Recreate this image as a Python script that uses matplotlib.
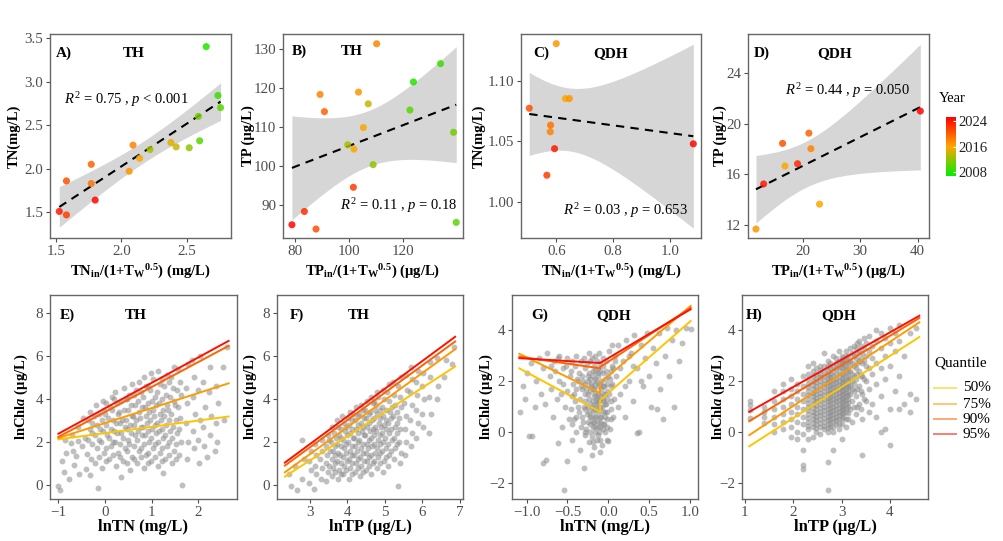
import numpy as np
import matplotlib
matplotlib.use("Agg")
import matplotlib.pyplot as plt
from matplotlib.colors import LinearSegmentedColormap, Normalize
from matplotlib.cm import ScalarMappable
from matplotlib.lines import Line2D

plt.rcParams['font.family'] = ['Liberation Serif', 'DejaVu Serif']
plt.rcParams['mathtext.fontset'] = 'custom'
plt.rcParams['mathtext.rm'] = 'Liberation Serif'
plt.rcParams['mathtext.it'] = 'Liberation Serif:italic'
plt.rcParams['mathtext.bf'] = 'Liberation Serif:bold'
plt.rcParams['mathtext.bfit'] = 'Liberation Serif:bold:italic'

# ---------------- data: top row (annual means) ----------------
th_tn_x = [1.525, 1.58, 1.58, 1.77, 1.77, 1.80, 2.06, 2.09, 2.14, 2.22, 2.38, 2.42, 2.52, 2.59, 2.60, 2.65, 2.74, 2.76]
th_tn_y = [1.51, 1.47, 1.86, 2.05, 1.83, 1.64, 1.97, 2.27, 2.12, 2.22, 2.30, 2.25, 2.24, 2.60, 2.32, 3.40, 2.84, 2.70]
th_tn_year = [2024, 2022, 2021, 2020, 2019, 2025, 2017, 2018, 2016, 2013, 2015, 2014, 2012, 2011, 2010, 2008, 2009, 2010]

th_tp_x = [79.0, 83.6, 87.9, 89.4, 91.0, 99.6, 101.9, 101.7, 103.6, 105.4, 107.2, 109.0, 110.3, 122.6, 123.9, 133.9, 138.7, 139.7]
th_tp_y = [84.9, 88.3, 83.8, 118.3, 113.9, 105.4, 104.3, 94.5, 118.9, 109.8, 115.9, 100.3, 131.3, 114.3, 121.5, 126.2, 108.6, 85.5]
th_tp_year = [2025, 2023, 2021, 2018, 2020, 2013, 2016, 2022, 2017, 2016, 2014, 2012, 2018, 2010, 2008, 2009, 2011, 2010]

qdh_tn_x = [0.505, 0.600, 0.567, 0.579, 0.580, 0.594, 0.632, 0.646, 1.082]
qdh_tn_y = [1.0775, 1.131, 1.022, 1.058, 1.0635, 1.044, 1.0855, 1.0855, 1.048]
qdh_tn_year = [2021, 2017, 2022, 2018, 2019, 2024, 2016, 2017, 2025]

qdh_tp_x = [11.9, 13.24, 16.53, 16.94, 19.13, 21.10, 21.45, 22.95, 40.46]
qdh_tp_y = [11.66, 15.23, 18.44, 16.65, 16.83, 19.25, 18.02, 13.63, 21.0]
qdh_tp_year = [2017, 2024, 2021, 2016, 2023, 2020, 2018, 2016, 2025]

r2_texts = [r'$R^2$ = 0.75 , $p$ < 0.001', r'$R^2$ = 0.11 , $p$ = 0.18',
            r'$R^2$ = 0.03 , $p$ = 0.653', r'$R^2$ = 0.44 , $p$ = 0.050']

# ---------------- data: bottom row (observations) ----------------
e_pts = [(-1.00, -0.05), (-0.96, -0.25), (-0.92, 1.1), (-0.88, 0.6), (-0.83, 1.5), (-0.78, 0.3), (-0.74, 1.95),
         (-0.70, 2.3), (-0.66, 0.95), (-0.62, 1.35), (-0.57, 2.7), (-0.55, 0.5), (-0.50, 1.8), (-0.47, 3.1),
         (-0.44, 2.2), (-0.41, 0.75), (-0.38, 1.45), (-0.33, 0.45), (-0.15, -0.15), (-0.58, 2.05), (-0.68, 1.6),
         (-0.85, 2.1),
         (-0.36, 2.1), (-0.33, 2.6), (-0.37, 3.0), (-0.32, 3.4), (-0.30, 1.2),
         (-0.22, 1.0), (-0.18, 1.7), (-0.21, 2.3), (-0.17, 2.8), (-0.23, 3.2), (-0.19, 3.7),
         (-0.06, 0.8), (-0.03, 1.5), (-0.08, 2.0), (-0.04, 2.5), (-0.07, 3.0), (-0.02, 3.5), (-0.05, 3.9),
         (0.08, 1.2), (0.12, 1.8), (0.09, 2.2), (0.13, 2.6), (0.07, 3.1), (0.11, 3.6), (0.14, 4.1),
         (0.24, 0.9), (0.27, 1.5), (0.22, 2.0), (0.26, 2.4), (0.23, 2.9), (0.28, 3.3), (0.25, 3.8), (0.21, 4.3),
         (0.38, 1.1), (0.42, 1.7), (0.39, 2.2), (0.43, 2.7), (0.37, 3.0), (0.41, 3.5), (0.44, 4.0), (0.40, 4.5), (0.35, 0.35),
         (0.54, 0.7), (0.57, 1.3), (0.52, 1.9), (0.56, 2.4), (0.53, 2.8), (0.58, 3.2), (0.55, 3.7), (0.51, 4.2), (0.57, 4.7),
         (0.69, 1.0), (0.72, 1.6), (0.68, 2.1), (0.71, 2.5), (0.67, 3.0), (0.73, 3.4), (0.70, 3.9), (0.66, 4.4), (0.72, 4.8),
         (0.84, 0.8), (0.87, 1.4), (0.83, 1.9), (0.86, 2.3), (0.82, 2.7), (0.88, 3.2), (0.85, 3.6), (0.81, 4.1), (0.87, 4.6), (0.84, 5.0),
         (0.99, 1.1), (1.02, 1.7), (0.98, 2.2), (1.01, 2.6), (0.97, 3.0), (1.03, 3.5), (1.00, 3.9), (0.96, 4.4), (1.02, 4.9), (0.99, 5.2),
         (1.14, 0.9), (1.17, 1.5), (1.13, 2.0), (1.16, 2.5), (1.12, 2.9), (1.18, 3.3), (1.15, 3.8), (1.11, 4.3), (1.17, 4.7), (1.14, 5.3),
         (1.29, 1.2), (1.32, 1.8), (1.28, 2.3), (1.31, 2.8), (1.27, 3.2), (1.33, 3.7), (1.30, 4.2), (1.26, 4.6), (1.32, 5.1), (1.25, 0.55),
         (1.44, 1.0), (1.47, 1.6), (1.43, 2.2), (1.46, 2.7), (1.42, 3.3), (1.48, 3.9), (1.45, 4.5), (1.41, 5.0), (1.47, 5.5),
         (1.59, 1.4), (1.62, 2.0), (1.58, 2.6), (1.61, 3.1), (1.57, 3.6), (1.63, 4.2), (1.60, 4.8), (1.56, 5.4), (1.66, 0.0),
         (1.75, 1.2), (1.77, 2.0), (1.73, 2.9), (1.76, 3.8), (1.74, 4.5), (1.78, 5.6), (1.90, 1.7), (1.88, 2.5), (1.92, 3.3),
         (1.89, 4.1), (1.91, 5.0), (1.87, 5.8), (2.02, 1.0), (2.00, 2.1), (2.04, 3.0), (1.99, 4.4), (2.03, 6.0), (2.12, 1.8),
         (2.10, 2.7), (2.14, 3.6), (2.11, 4.8), (2.25, 2.3), (2.27, 3.2), (2.23, 4.3), (2.26, 5.5), (2.40, 2.0), (2.38, 2.9),
         (2.42, 3.8), (2.39, 4.6), (2.55, 3.0), (2.53, 5.5), (2.62, 6.4), (2.35, 1.6), (2.18, 1.3),
         (-0.28, 1.9), (-0.27, 2.4), (-0.29, 2.9),
         (-0.12, 1.3), (-0.13, 2.1), (-0.11, 2.6), (-0.12, 3.3),
         (0.03, 1.1), (0.02, 1.7), (0.04, 2.3), (0.03, 2.8), (0.01, 3.3), (0.03, 3.8),
         (0.18, 1.4), (0.17, 2.0), (0.19, 2.5), (0.18, 3.0), (0.16, 3.5), (0.19, 4.0),
         (0.33, 1.3), (0.32, 1.9), (0.34, 2.4), (0.33, 2.9), (0.31, 3.4), (0.34, 3.9),
         (0.48, 1.0), (0.47, 1.6), (0.49, 2.1), (0.48, 2.6), (0.46, 3.0), (0.49, 3.5), (0.47, 4.0),
         (0.63, 1.2), (0.62, 1.8), (0.64, 2.3), (0.63, 2.8), (0.61, 3.2), (0.64, 3.7), (0.62, 4.2),
         (0.78, 1.3), (0.77, 1.7), (0.79, 2.3), (0.78, 2.7), (0.76, 3.1), (0.79, 3.6), (0.77, 4.3),
         (0.93, 1.0), (0.92, 1.5), (0.94, 2.0), (0.93, 2.5), (0.91, 2.9), (0.94, 3.4), (0.92, 3.8), (0.93, 4.6),
         (1.08, 1.3), (1.07, 1.9), (1.09, 2.4), (1.08, 2.8), (1.06, 3.2), (1.09, 3.7), (1.07, 4.1),
         (1.23, 1.1), (1.22, 1.7), (1.24, 2.2), (1.23, 2.6), (1.21, 3.0), (1.24, 3.5), (1.22, 4.0), (1.23, 4.9),
         (1.38, 1.4), (1.37, 2.0), (1.39, 2.5), (1.38, 3.0), (1.36, 3.5), (1.39, 4.1), (1.37, 4.8),
         (1.53, 1.2), (1.52, 1.9), (1.54, 2.4), (1.53, 3.0), (1.51, 3.7), (1.54, 4.4)]

f_pts = [(2.50, -0.05), (2.65, -0.25), (2.60, 0.9), (2.45, 0.5), (2.78, 2.09), (2.80, 0.3), (2.83, 1.2), (3.10, -0.2), (5.35, -0.05),
         (2.98, 0.1), (3.02, 0.7), (2.97, 1.1), (3.03, 1.6),
         (3.16, 0.5), (3.13, 0.9), (3.17, 1.4), (3.14, 1.9),
         (3.29, 0.3), (3.32, 0.8), (3.28, 1.2), (3.31, 1.6), (3.33, 2.1),
         (3.44, 0.2), (3.47, 0.6), (3.43, 1.0), (3.46, 1.4), (3.42, 1.8), (3.48, 2.3),
         (3.59, 0.4), (3.62, 0.8), (3.58, 1.2), (3.61, 1.6), (3.57, 2.0), (3.63, 2.4), (3.60, 2.7),
         (3.74, 0.3), (3.77, 0.7), (3.73, 1.1), (3.76, 1.5), (3.72, 1.9), (3.78, 2.3), (3.75, 2.7), (3.71, 3.0),
         (3.89, 0.5), (3.92, 0.9), (3.88, 1.3), (3.91, 1.7), (3.87, 2.1), (3.93, 2.5), (3.90, 2.9), (3.86, 3.2),
         (4.04, 0.3), (4.07, 0.8), (4.03, 1.2), (4.06, 1.6), (4.02, 2.0), (4.08, 2.4), (4.05, 2.8), (4.01, 3.1), (4.07, 3.4),
         (4.19, 0.6), (4.22, 1.0), (4.18, 1.4), (4.21, 1.8), (4.17, 2.2), (4.23, 2.6), (4.20, 3.0), (4.16, 3.3), (4.22, 3.6),
         (4.34, 0.4), (4.37, 0.9), (4.33, 1.3), (4.36, 1.7), (4.32, 2.1), (4.38, 2.5), (4.35, 2.9), (4.31, 3.3), (4.37, 3.7),
         (4.49, 0.7), (4.52, 1.1), (4.48, 1.5), (4.51, 1.9), (4.47, 2.3), (4.53, 2.7), (4.50, 3.1), (4.46, 3.5), (4.52, 3.9),
         (4.64, 0.5), (4.67, 1.0), (4.63, 1.4), (4.66, 1.8), (4.62, 2.2), (4.68, 2.6), (4.65, 3.0), (4.61, 3.4), (4.67, 3.8), (4.64, 4.1),
         (4.79, 0.8), (4.82, 1.3), (4.78, 1.7), (4.81, 2.1), (4.77, 2.5), (4.83, 2.9), (4.80, 3.3), (4.76, 3.7), (4.82, 4.1), (4.79, 4.3),
         (4.94, 0.6), (4.97, 1.1), (4.93, 1.6), (4.96, 2.0), (4.92, 2.4), (4.98, 2.8), (4.95, 3.2), (4.91, 3.6), (4.97, 4.0), (4.94, 4.4),
         (5.09, 0.9), (5.12, 1.4), (5.08, 1.9), (5.11, 2.4), (5.07, 2.9), (5.13, 3.4), (5.10, 3.9), (5.06, 4.3), (5.12, 4.7),
         (5.24, 1.2), (5.27, 1.7), (5.23, 2.2), (5.26, 2.7), (5.22, 3.2), (5.28, 3.7), (5.25, 4.2), (5.21, 4.8),
         (5.39, 1.0), (5.42, 1.5), (5.38, 2.0), (5.41, 2.6), (5.37, 3.1), (5.43, 3.6), (5.40, 4.1), (5.36, 4.6), (5.42, 5.0),
         (5.54, 1.4), (5.57, 2.0), (5.53, 2.6), (5.56, 3.2), (5.52, 3.8), (5.58, 4.4), (5.55, 5.1),
         (5.69, 1.8), (5.72, 2.4), (5.68, 3.0), (5.71, 3.7), (5.67, 4.3), (5.73, 4.9), (5.70, 5.5),
         (5.84, 2.2), (5.87, 2.9), (5.83, 3.5), (5.86, 4.2), (5.82, 4.8), (5.88, 5.3),
         (6.02, 2.7), (5.99, 3.3), (6.03, 4.0), (5.98, 4.6), (6.01, 5.2),
         (6.18, 2.4), (6.22, 3.3), (6.17, 4.1), (6.21, 5.0), (6.19, 5.7), (6.38, 4.0), (6.42, 4.6), (6.40, 5.9),
         (6.58, 5.0), (6.62, 5.8), (6.78, 5.6), (6.85, 6.4),
         (3.52, 0.9), (3.53, 1.6), (3.51, 2.1),
         (3.67, 0.6), (3.68, 1.0), (3.66, 1.4), (3.67, 1.8), (3.69, 2.2),
         (3.82, 0.5), (3.83, 1.0), (3.81, 1.4), (3.82, 1.8), (3.84, 2.2), (3.82, 2.6),
         (3.97, 0.7), (3.98, 1.1), (3.96, 1.5), (3.97, 1.9), (3.99, 2.3), (3.97, 2.7),
         (4.12, 0.5), (4.13, 1.0), (4.11, 1.4), (4.12, 1.8), (4.14, 2.2), (4.12, 2.6), (4.13, 3.0),
         (4.27, 0.8), (4.28, 1.2), (4.26, 1.6), (4.27, 2.0), (4.29, 2.4), (4.27, 2.8), (4.28, 3.2),
         (4.42, 0.6), (4.43, 1.1), (4.41, 1.5), (4.42, 1.9), (4.44, 2.3), (4.42, 2.7), (4.43, 3.1), (4.41, 3.5),
         (4.57, 0.9), (4.58, 1.3), (4.56, 1.7), (4.57, 2.1), (4.59, 2.5), (4.57, 2.9), (4.58, 3.3),
         (4.72, 1.1), (4.73, 1.5), (4.71, 1.9), (4.72, 2.3), (4.74, 2.7), (4.72, 3.1), (4.73, 3.5), (4.71, 3.9),
         (4.87, 1.0), (4.88, 1.5), (4.86, 1.9), (4.87, 2.3), (4.89, 2.7), (4.87, 3.1), (4.88, 3.5),
         (5.02, 1.3), (5.03, 1.7), (5.01, 2.2), (5.02, 2.6), (5.04, 3.0), (5.02, 3.5),
         (5.17, 1.6), (5.18, 2.1), (5.16, 2.6), (5.17, 3.1), (5.19, 3.6),
         (5.32, 1.9), (5.33, 2.4), (5.31, 2.9), (5.32, 3.4)]

g_pts = [(-1.08, 0.8), (-1.05, 1.8), (-1.00, 2.3), (-1.02, 1.3), (-0.97, -0.16), (-0.93, -0.16), (-0.95, 2.7), (-0.90, 1.0),
         (-0.88, 2.0), (-0.85, 2.9), (-0.83, 1.5), (-0.80, -1.22), (-0.76, -1.08), (-0.80, 2.5), (-0.77, 1.1), (-0.75, 3.1),
         (-0.72, 2.2), (-0.70, 1.7), (-0.68, 0.6), (-0.66, 2.8), (-0.63, 1.3), (-0.61, -0.43), (-0.60, 2.0), (-0.60, 3.0),
         (-0.57, 0.2), (-0.56, 2.5), (-0.54, -2.29), (-0.53, 1.0), (-0.50, -1.14), (-0.50, 1.6), (-0.50, 2.9), (-0.48, 0.5),
         (-0.47, 2.2),
         (-0.45, -0.3), (-0.44, 0.3), (-0.46, 0.9), (-0.45, 1.4), (-0.43, 1.9), (-0.46, 2.4), (-0.44, 2.8),
         (-0.40, 0.0), (-0.39, 0.6), (-0.41, 1.2), (-0.40, 1.7), (-0.38, 2.1), (-0.41, 2.6), (-0.39, 3.0),
         (-0.35, -0.7), (-0.34, 0.2), (-0.36, 0.8), (-0.35, 1.3), (-0.33, 1.8), (-0.36, 2.3), (-0.34, 2.8),
         (-0.30, -1.40), (-0.29, -0.1), (-0.31, 0.4), (-0.30, 1.0), (-0.28, 1.5), (-0.31, 2.0), (-0.29, 2.5), (-0.30, 2.9),
         (-0.27, 0.1), (-0.26, 0.7), (-0.28, 1.2), (-0.27, 1.7), (-0.25, 2.2), (-0.26, 2.7),
         (-0.23, -0.4), (-0.22, 0.3), (-0.24, 0.8), (-0.23, 1.3), (-0.21, 1.8), (-0.24, 2.3), (-0.22, 2.8), (-0.23, 3.1),
         (-0.20, -0.2), (-0.19, 0.2), (-0.21, 0.6), (-0.20, 1.0), (-0.18, 1.4), (-0.21, 1.9), (-0.19, 2.4), (-0.20, 2.9),
         (-0.17, -0.6), (-0.16, 0.0), (-0.18, 0.4), (-0.17, 0.9), (-0.15, 1.3), (-0.18, 1.7), (-0.16, 2.1), (-0.17, 2.6), (-0.16, 3.0),
         (-0.14, -0.3), (-0.13, 0.2), (-0.15, 0.6), (-0.14, 1.1), (-0.12, 1.5), (-0.15, 2.0), (-0.13, 2.5), (-0.14, 2.8),
         (-0.11, 0.0), (-0.10, 0.4), (-0.12, 0.8), (-0.11, 1.2), (-0.09, 1.7), (-0.12, 2.2), (-0.10, 2.7), (-0.11, 3.1),
         (-0.08, -0.5), (-0.07, 0.1), (-0.09, 0.6), (-0.08, 1.0), (-0.06, 1.5), (-0.09, 2.0), (-0.07, 2.6),
         (-0.05, 0.3), (-0.04, 0.8), (-0.06, 1.3), (-0.05, 1.8), (-0.03, 2.4), (-0.06, 2.9),
         (-0.02, -0.3), (-0.01, 0.5), (-0.03, 1.1), (-0.02, 1.6), (0.00, 2.2), (-0.03, 2.8),
         (0.02, 0.1), (0.03, 0.9), (0.01, 1.5), (0.02, 2.1), (0.04, 2.6), (0.01, 3.2),
         (0.06, 0.6), (0.07, 1.3), (0.05, 1.9), (0.06, 2.5), (0.08, 3.0), (0.05, 3.4),
         (0.10, 2.2), (0.12, 3.4), (0.15, 1.5), (0.18, 2.8), (0.20, 0.6), (0.22, 3.6), (0.25, 2.0), (0.28, 3.1),
         (0.30, 1.2), (0.32, 3.8), (0.35, 2.5), (0.38, 0.0), (0.40, 3.4), (0.42, 1.8), (0.45, 2.9), (0.48, 3.9),
         (0.50, 2.2), (0.52, 1.0), (0.55, 3.3), (0.58, 2.7), (0.60, 0.9), (0.62, 3.9), (0.64, 1.7), (0.67, 0.5),
         (0.70, 3.0), (0.72, 4.1), (0.75, 2.2), (0.78, 3.6), (0.80, 1.0), (0.83, 4.0), (0.87, 2.8), (0.90, 3.5),
         (0.95, 4.1), (1.01, 4.05), (-0.20, -0.9), (-0.10, -0.8), (0.00, -0.35), (0.35, -0.05),
         (-0.42, 0.5), (-0.42, 1.5), (-0.37, 1.0), (-0.37, 2.0), (-0.32, 0.6), (-0.32, 1.7), (-0.32, 2.2), (-0.28, 0.0),
         (-0.28, 0.9), (-0.28, 1.9), (-0.25, 0.4), (-0.25, 1.0), (-0.25, 1.5), (-0.25, 2.0), (-0.22, 0.0), (-0.22, 0.6),
         (-0.22, 1.1), (-0.22, 1.6), (-0.22, 2.1), (-0.19, -0.4), (-0.19, 0.4), (-0.19, 0.8), (-0.19, 1.2), (-0.19, 1.7),
         (-0.19, 2.2), (-0.16, 0.2), (-0.16, 0.6), (-0.16, 1.1), (-0.16, 1.5), (-0.16, 1.9), (-0.16, 2.4), (-0.13, -0.1),
         (-0.13, 0.4), (-0.13, 0.9), (-0.13, 1.3), (-0.13, 1.8), (-0.13, 2.3), (-0.10, -0.3), (-0.10, 0.2), (-0.10, 0.6),
         (-0.10, 1.0), (-0.10, 1.4), (-0.10, 1.9), (-0.10, 2.4), (-0.07, 0.3), (-0.07, 0.8), (-0.07, 1.2), (-0.07, 1.8),
         (-0.07, 2.3), (-0.04, 0.0), (-0.04, 0.6), (-0.04, 1.1), (-0.04, 1.5), (-0.04, 2.1), (-0.01, 0.2), (-0.01, 0.8),
         (-0.01, 1.3), (-0.01, 1.9), (0.03, 0.5), (0.03, 1.2), (0.03, 1.8), (0.03, 2.4),
         (-0.65, 2.4), (-0.58, 1.5), (-0.52, 2.6), (-0.55, 1.9), (-0.70, 2.6), (-0.62, 2.9),
         (0.15, 2.5), (0.25, 3.0), (0.20, 1.8), (0.30, 2.6), (0.40, 2.0), (0.12, 1.0), (0.08, 2.8)]

h_cols = [(1.10, [0.55, 0.85, 1.05, 1.2]),
          (1.39, [0.35, 0.6, 0.8, 1.0]),
          (1.61, [0.0, 0.3, 0.6, 0.9, 1.2, 1.6]),
          (1.79, [0.1, 0.4, 0.7, 1.0, 1.3, 1.6, 1.9]),
          (1.95, [-0.2, 0.2, 0.5, 0.8, 1.1, 1.4, 1.7, 2.1]),
          (2.08, [-0.3, 0.0, 0.4, 0.7, 1.0, 1.3, 1.6, 1.9]),
          (2.20, [-0.7, -1.3, -1.45, -0.1, 0.3, 0.6, 0.9, 1.2, 1.5, 1.8, 2.2]),
          (2.30, [-0.3, 0.1, 0.4, 0.7, 1.0, 1.3, 1.6, 1.9, 2.3, 2.6]),
          (2.40, [-0.2, 0.2, 0.5, 0.8, 1.1, 1.4, 1.7, 2.0, 2.4, 2.7]),
          (2.48, [0.0, 0.3, 0.6, 0.9, 1.2, 1.5, 1.8, 2.1, 2.5]),
          (2.56, [-0.1, 0.2, 0.5, 0.8, 1.1, 1.4, 1.7, 2.0, 2.3, 2.6]),
          (2.64, [0.1, 0.4, 0.7, 1.0, 1.3, 1.6, 1.9, 2.2, 2.6, 3.1]),
          (2.71, [-2.3, -1.2, 0.0, 0.3, 0.6, 0.9, 1.2, 1.5, 1.8, 2.1, 2.4, 2.8]),
          (2.77, [0.2, 0.5, 0.8, 1.1, 1.4, 1.7, 2.0, 2.3, 2.7]),
          (2.83, [-0.7, 0.0, 0.4, 0.7, 1.0, 1.3, 1.6, 1.9, 2.2, 2.6, 3.0]),
          (2.89, [0.3, 0.6, 0.9, 1.2, 1.5, 1.8, 2.1, 2.5, 2.9]),
          (2.94, [0.1, 0.5, 0.8, 1.1, 1.4, 1.7, 2.0, 2.4, 2.8, 3.2]),
          (3.00, [-0.3, 0.3, 0.7, 1.0, 1.3, 1.6, 1.9, 2.3, 2.7, 3.0]),
          (3.04, [0.6, 0.9, 1.2, 1.5, 1.8, 2.1, 2.5, 2.9]),
          (3.09, [0.2, 0.8, 1.1, 1.4, 1.7, 2.0, 2.4, 2.8, 3.2]),
          (3.14, [0.5, 1.0, 1.3, 1.6, 1.9, 2.2, 2.6, 3.0]),
          (3.18, [0.9, 1.5, 1.8, 2.1, 2.4, 2.8, 3.3]),
          (3.22, [0.4, 1.2, 1.7, 2.0, 2.3, 2.7, 3.1]),
          (3.26, [1.0, 1.6, 1.9, 2.2, 2.6, 3.0, 3.4]),
          (3.30, [0.7, 1.4, 2.1, 2.5, 2.9, 3.3]),
          (3.37, [1.1, 1.8, 2.4, 2.8, 3.2, 3.6]),
          (3.43, [-0.9, 0.5, 1.5, 2.2, 2.7, 3.1]),
          (3.50, [1.2, 2.0, 2.6, 3.0, 3.5]),
          (3.56, [0.8, 1.7, 2.5, 3.2, 3.8]),
          (3.64, [1.1, 2.3, 2.9, 3.4]),
          (3.71, [0.6, 1.9, 2.7, 3.6, 4.0]),
          (3.81, [0.0, 1.4, 2.5, 3.3, 3.9]),
          (3.91, [0.1, 2.1, 3.0, 3.7]),
          (4.00, [-0.5, 0.9, 2.6, 3.5, 4.1]),
          (4.11, [1.6, 3.2, 3.9]),
          (4.20, [0.9, 2.2, 3.6, 4.2]),
          (4.30, [1.1, 3.0]),
          (4.42, [0.8, 1.5, 3.9]),
          (4.55, [1.3, 4.1]),
          (2.30, [0.25, 0.55, 0.85, 1.15, 1.45, 1.75, 2.1]),
          (2.40, [0.35, 0.65, 0.95, 1.25, 1.55, 1.85, 2.2]),
          (2.48, [0.15, 0.45, 0.75, 1.05, 1.35, 1.65, 1.95, 2.3]),
          (2.56, [0.35, 0.65, 0.95, 1.25, 1.55, 1.85, 2.15, 2.45]),
          (2.64, [0.25, 0.55, 0.85, 1.15, 1.45, 1.75, 2.05, 2.4]),
          (2.71, [0.15, 0.45, 0.75, 1.05, 1.35, 1.65, 1.95, 2.25, 2.6]),
          (2.77, [0.35, 0.65, 0.95, 1.25, 1.55, 1.85, 2.15, 2.5]),
          (2.83, [0.2, 0.55, 0.85, 1.15, 1.45, 1.75, 2.05, 2.4]),
          (2.89, [0.45, 0.75, 1.05, 1.35, 1.65, 1.95, 2.3, 2.7]),
          (2.94, [0.3, 0.65, 0.95, 1.25, 1.55, 1.85, 2.2, 2.6]),
          (3.00, [0.5, 0.85, 1.15, 1.45, 1.75, 2.1, 2.5, 2.85]),
          (3.04, [0.75, 1.05, 1.35, 1.65, 1.95, 2.3, 2.7]),
          (3.09, [0.5, 0.95, 1.25, 1.55, 1.85, 2.2, 2.6, 3.0]),
          (3.14, [0.75, 1.15, 1.45, 1.75, 2.05, 2.4, 2.8]),
          (3.33, [1.0, 1.7, 2.3, 2.7, 3.1, 3.5]),
          (3.40, [0.9, 1.6, 2.2, 2.9, 3.4]),
          (3.47, [1.3, 2.1, 2.8, 3.3, 3.7])]

# quantile regression lines (values at line ends)
quantiles = ['50%', '75%', '90%', '95%']
q_colors = ['#FFC400', '#FF9A00', '#FF6400', '#FF1000']
e_qx = [-1.0, 2.65]
e_qy = [[2.12, 3.18], [2.18, 4.72], [2.23, 6.46], [2.38, 6.69]]
f_qx = [2.33, 6.87]
f_qy = [[0.39, 5.50], [0.59, 6.30], [0.90, 6.66], [1.04, 6.88]]
g_qx_left = [-1.09, -0.10]
g_qx_right = [-0.10, 1.01]
g_qy_left = [[2.50, 0.79], [3.07, 1.53], [2.96, 2.50], [2.90, 2.71]]
g_qy_right = [[1.25, 4.36], [1.93, 4.95], [2.55, 4.88], [2.71, 4.82]]
h_qx = [1.09, 4.61]
h_qy = [[-0.57, 3.74], [-0.13, 4.32], [0.42, 4.49], [0.79, 4.58]]

# ---------------- figure ----------------
W, H = 1004, 541
fig = plt.figure(figsize=(W / 100, H / 100), dpi=100)


def add_ax(l, t, r, b):
    return fig.add_axes([l / W, 1 - b / H, (r - l) / W, (b - t) / H])


TICK_C = '#4D4D4D'


def style(ax):
    for s in ax.spines.values():
        s.set_color('#666666')
        s.set_linewidth(1.0)
    ax.tick_params(colors=TICK_C, labelcolor=TICK_C, length=3, width=0.8, labelsize=10.8, pad=2)


cmap = LinearSegmentedColormap.from_list('yr', ['#00EE00', '#FFA500', '#FF0000'])
norm = Normalize(vmin=2006.8, vmax=2025.4)
t_table = {16: 2.120, 7: 2.365}


def lm_band(x, y):
    x = np.asarray(x, float)
    y = np.asarray(y, float)
    n = len(x)
    b1, b0 = np.polyfit(x, y, 1)
    xs = np.linspace(x.min(), x.max(), 80)
    yh = b0 + b1 * xs
    res = y - (b0 + b1 * x)
    s = np.sqrt(np.sum(res ** 2) / (n - 2))
    sxx = np.sum((x - x.mean()) ** 2)
    se = s * np.sqrt(1 / n + (xs - x.mean()) ** 2 / sxx)
    t = t_table[n - 2]
    return xs, yh, yh - t * se, yh + t * se


lab_TN = r'$\mathbf{TN_{in}/(1{+}T_{W}{}^{0.5})}$ (mg/L)'
lab_TP = r'$\mathbf{TP_{in}/(1{+}T_{W}{}^{0.5})}$ (µg/L)'

top = [
    dict(rect=(50, 34, 231, 238), x=th_tn_x, y=th_tn_y, yr=th_tn_year, xlim=(1.454, 2.84), ylim=(1.205, 3.545),
         xt=[1.5, 2.0, 2.5], yt=[1.5, 2.0, 2.5, 3.0, 3.5], xfmt='%.1f', yfmt='%.1f', tag='A)', site='TH',
         tagx=0.03, sitex=0.46, tagy=0.905, r2=(0.079, 0.68, 'left'), xl=lab_TN, yl='TN(mg/L)', ylx=-0.20),
    dict(rect=(283, 34, 463, 238), x=th_tp_x, y=th_tp_y, yr=th_tp_year, xlim=(75.7, 142.2), ylim=(81.5, 133.8),
         xt=[80, 100, 120], yt=[90, 100, 110, 120, 130], xfmt='%d', yfmt='%d', tag='B)', site='TH',
         tagx=0.05, sitex=0.38, tagy=0.915, r2=(0.967, 0.16, 'right'), xl=lab_TP, yl='TP (µg/L)', ylx=-0.195),
    dict(rect=(521, 34, 701, 238), x=qdh_tn_x, y=qdh_tn_y, yr=qdh_tn_year, xlim=(0.476, 1.109), ylim=(0.970, 1.139),
         xt=[0.6, 0.8, 1.0], yt=[1.00, 1.05, 1.10], xfmt='%.1f', yfmt='%.2f', tag='C)', site='QDH',
         tagx=0.07, sitex=0.50, tagy=0.905, r2=(0.925, 0.137, 'right'), xl=lab_TN, yl='TN(mg/L)', ylx=-0.235),
    dict(rect=(748, 34, 929, 238), x=qdh_tp_x, y=qdh_tp_y, yr=qdh_tp_year, xlim=(10.52, 41.97), ylim=(10.95, 27.1),
         xt=[20, 30, 40], yt=[12, 16, 20, 24], xfmt='%d', yfmt='%d', tag='D)', site='QDH',
         tagx=0.03, sitex=0.48, tagy=0.905, r2=(0.204, 0.725, 'left'), xl=lab_TP, yl='TP (µg/L)', ylx=-0.155),
]

for i, p in enumerate(top):
    ax = add_ax(*p['rect'])
    style(ax)
    xs, yh, lo, hi = lm_band(p['x'], p['y'])
    ax.fill_between(xs, lo, hi, color='#999999', alpha=0.4, lw=0, zorder=1)
    ax.plot(xs, yh, color='black', lw=1.5, ls=(0, (4, 3)), zorder=2)
    ax.scatter(p['x'], p['y'], c=p['yr'], cmap=cmap, norm=norm, s=26, alpha=0.85, lw=0, zorder=3)
    ax.set_xlim(*p['xlim'])
    ax.set_ylim(*p['ylim'])
    ax.set_xticks(p['xt'])
    ax.set_yticks(p['yt'])
    ax.set_xticklabels([p['xfmt'] % v for v in p['xt']])
    ax.set_yticklabels([p['yfmt'] % v for v in p['yt']])
    ax.text(p['tagx'], p['tagy'], p['tag'], transform=ax.transAxes, fontsize=11, fontweight='bold', va='center')
    ax.text(p['sitex'], p['tagy'], p['site'], transform=ax.transAxes, fontsize=11, fontweight='bold',
            va='center', ha='center')
    rx, ry, ha = p['r2']
    ax.text(rx, ry, r2_texts[i], transform=ax.transAxes, fontsize=10.5, ha=ha, va='center')
    ax.set_xlabel(p['xl'], fontsize=10.5, fontweight='bold')
    ax.xaxis.label.set_verticalalignment('center')
    ax.xaxis.set_label_coords(0.5, -0.167)
    ax.set_ylabel(p['yl'], fontsize=10.5, fontweight='bold')
    ax.yaxis.label.set_verticalalignment('center')
    ax.yaxis.set_label_coords(p['ylx'], 0.5)

# colorbar
cax = fig.add_axes([946 / W, 1 - 176 / H, 10 / W, 59 / H])
cb = fig.colorbar(ScalarMappable(norm=norm, cmap=cmap), cax=cax, ticks=[2008, 2016, 2024])
cb.outline.set_visible(False)
cax.tick_params(direction='in', color='white', length=2.5, width=0.8, labelsize=10.5, labelcolor='#222222', pad=2)
fig.text(939 / W, 1 - 98 / H, 'Year', fontsize=10.5, va='center', ha='left')

# bottom row
lnchla = r'lnChl$\mathbfit{a}$ (µg/L)'
bottom = [
    dict(rect=(50, 295, 237, 499), pts=e_pts, xlim=(-1.18, 2.83), ylim=(-0.65, 8.82), xt=[-1, 0, 1, 2],
         yt=[0, 2, 4, 6, 8], fmt='%d', tag='E)', site='TH', tagx=0.053, sitex=0.46, xl='lnTN (mg/L)', ylx=-0.155),
    dict(rect=(277, 295, 463, 499), pts=f_pts, xlim=(2.12, 7.08), ylim=(-0.65, 8.82), xt=[3, 4, 5, 6, 7],
         yt=[0, 2, 4, 6, 8], fmt='%d', tag='F)', site='TH', tagx=0.07, sitex=0.44, xl='lnTP (µg/L)', ylx=-0.145),
    dict(rect=(512, 295, 698, 499), pts=g_pts, xlim=(-1.18, 1.10), ylim=(-2.63, 5.38), xt=[-1.0, -0.5, 0.0, 0.5, 1.0],
         yt=[-2, 0, 2, 4], fmt='%.1f', tag='G)', site='QDH', tagx=0.106, sitex=0.545, xl='lnTN (mg/L)', ylx=-0.14),
    dict(rect=(742, 295, 928, 499), pts=None, xlim=(0.94, 4.79), ylim=(-2.65, 5.40), xt=[1, 2, 3, 4],
         yt=[-2, 0, 2, 4], fmt='%d', tag='H)', site='QDH', tagx=0.02, sitex=0.52, xl='lnTP (µg/L)', ylx=-0.129),
]

for i, p in enumerate(bottom):
    ax = add_ax(*p['rect'])
    style(ax)
    if p['pts'] is not None:
        px = [a for a, b in p['pts']]
        py = [b for a, b in p['pts']]
    else:
        px = [c for c, ys in h_cols for _ in ys]
        py = [v for c, ys in h_cols for v in ys]
    ax.scatter(px, py, s=18, color='#8C8C8C', alpha=0.55, lw=0, zorder=1)
    for k in range(4):
        if i == 0:
            ax.plot(e_qx, e_qy[k], color=q_colors[k], lw=1.4, zorder=2 + k)
        elif i == 1:
            ax.plot(f_qx, f_qy[k], color=q_colors[k], lw=1.4, zorder=2 + k)
        elif i == 2:
            ax.plot(g_qx_left + g_qx_right, g_qy_left[k] + g_qy_right[k], color=q_colors[k], lw=1.4, zorder=2 + k)
        else:
            ax.plot(h_qx, h_qy[k], color=q_colors[k], lw=1.4, zorder=2 + k)
    ax.set_xlim(*p['xlim'])
    ax.set_ylim(*p['ylim'])
    ax.set_xticks(p['xt'])
    ax.set_yticks(p['yt'])
    ax.set_xticklabels([(p['fmt'] % v).replace('-', '\u2212') for v in p['xt']])
    ax.set_yticklabels([('%d' % v).replace('-', '\u2212') for v in p['yt']])
    ax.text(p['tagx'], 0.9, p['tag'], transform=ax.transAxes, fontsize=11, fontweight='bold', va='center')
    ax.text(p['sitex'], 0.9, p['site'], transform=ax.transAxes, fontsize=11, fontweight='bold',
            va='center', ha='center')
    ax.set_xlabel(p['xl'], fontsize=12, fontweight='bold')
    ax.xaxis.label.set_verticalalignment('center')
    ax.xaxis.set_label_coords(0.5, -0.136)
    ax.set_ylabel(lnchla, fontsize=10.5, fontweight='bold')
    ax.yaxis.label.set_verticalalignment('center')
    ax.yaxis.set_label_coords(p['ylx'], 0.5)

# legend (Quantile)
fig.text(934 / W, 1 - 363 / H, 'Quantile', fontsize=11, va='center', ha='left')
leg_y = [387.7, 404.3, 419.3, 434.0]
for k in range(4):
    fig.add_artist(Line2D([934 / W, 956 / W], [1 - leg_y[k] / H] * 2, transform=fig.transFigure,
                          color=q_colors[k], lw=1.4, alpha=0.55))
    fig.text(962.7 / W, 1 - leg_y[k] / H, quantiles[k], fontsize=11, va='center', ha='left')

fig.savefig('out.png', dpi=100)
